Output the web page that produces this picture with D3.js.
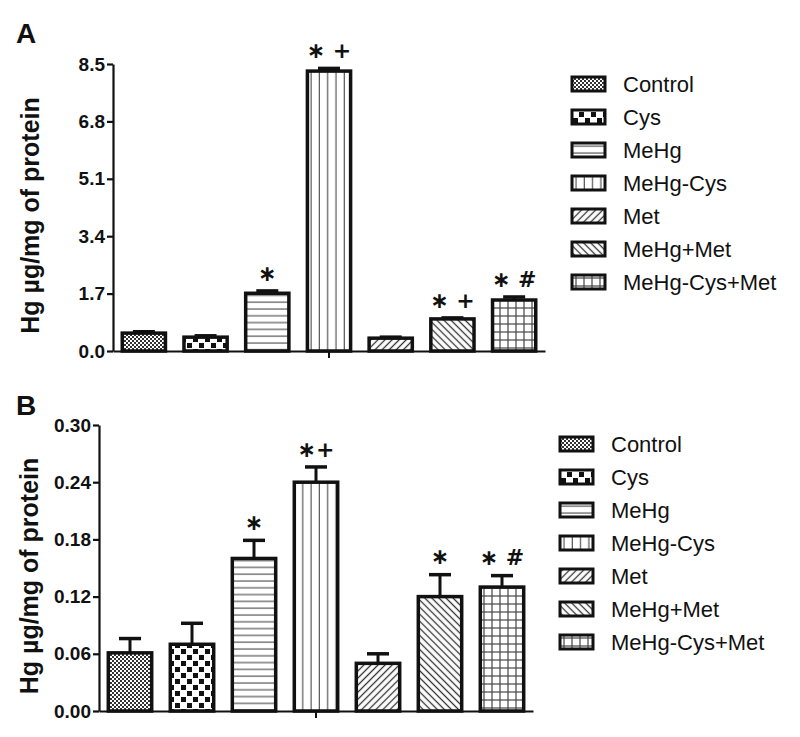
<!DOCTYPE html>
<html>
<head>
<meta charset="utf-8">
<script src="https://cdn.jsdelivr.net/npm/d3@7"></script>
<style>
  body { margin: 0; background: #fff; }
  svg { display: block; }
  text { font-family: "Liberation Sans", Arial, sans-serif; fill: #111; }
</style>
</head>
<body>
<div id="graph"></div>
<script>
// groups and values
const groups = ["Control", "Cys", "MeHg", "MeHg-Cys", "Met", "MeHg+Met", "MeHg-Cys+Met"];

// panel A
const meanA = [0.53, 0.41, 1.71, 8.29, 0.38, 0.95, 1.51];
const errA = [0.04, 0.04, 0.07, 0.08, 0.03, 0.03, 0.09];
const markA = ["", "", "\u2217", "\u2217 +", "", "\u2217 +", "\u2217 #"];
const ticksA = [0, 1.7, 3.4, 5.1, 6.8, 8.5];

// panel B
const meanB = [0.061, 0.070, 0.160, 0.240, 0.050, 0.120, 0.130];
const errB = [0.015, 0.022, 0.019, 0.016, 0.010, 0.023, 0.012];
const markB = ["", "", "\u2217", "\u2217+", "", "\u2217", "\u2217 #"];
const ticksB = [0, 0.06, 0.12, 0.18, 0.24, 0.30];

const patternIds = ["pControl", "pCys", "pMeHg", "pMeHgCys", "pMet", "pMeHgMet", "pMeHgCysMet"];

var svg = d3.select("#graph")
  .append("svg")
  .attr("width", 800)
  .attr("height", 737);

// fill patterns
var defs = svg.append("defs");
function pat(id, w, h) {
  return defs.append("pattern").attr("id", id)
    .attr("patternUnits", "userSpaceOnUse")
    .attr("width", w).attr("height", h);
}
var p = pat("pControl", 4, 4);
p.append("rect").attr("width", 4).attr("height", 4).attr("fill", "#fff");
p.append("rect").attr("width", 2).attr("height", 2).attr("fill", "#333");
p.append("rect").attr("x", 2).attr("y", 2).attr("width", 2).attr("height", 2).attr("fill", "#333");

p = pat("pCys", 12, 12);
p.append("rect").attr("width", 12).attr("height", 12).attr("fill", "#fff");
p.append("rect").attr("x", 1).attr("y", 1).attr("width", 5).attr("height", 5).attr("fill", "#111");
p.append("rect").attr("x", 7).attr("y", 7).attr("width", 5).attr("height", 5).attr("fill", "#111");

p = pat("pMeHg", 8, 6.8);
p.append("rect").attr("width", 8).attr("height", 6.8).attr("fill", "#fff");
p.append("line").attr("x1", 0).attr("x2", 8).attr("y1", 3).attr("y2", 3).attr("stroke", "#555").attr("stroke-width", 1.2);

p = pat("pMeHgCys", 8.3, 8);
p.append("rect").attr("width", 8.3).attr("height", 8).attr("fill", "#fff");
p.append("line").attr("x1", 4).attr("x2", 4).attr("y1", 0).attr("y2", 8).attr("stroke", "#555").attr("stroke-width", 1.2);

p = pat("pMet", 5, 5).attr("patternTransform", "rotate(45)");
p.append("rect").attr("width", 5).attr("height", 5).attr("fill", "#fff");
p.append("line").attr("x1", 2.5).attr("x2", 2.5).attr("y1", 0).attr("y2", 5).attr("stroke", "#333").attr("stroke-width", 1.3);

p = pat("pMeHgMet", 5, 5).attr("patternTransform", "rotate(-45)");
p.append("rect").attr("width", 5).attr("height", 5).attr("fill", "#fff");
p.append("line").attr("x1", 2.5).attr("x2", 2.5).attr("y1", 0).attr("y2", 5).attr("stroke", "#333").attr("stroke-width", 1.3);

p = pat("pMeHgCysMet", 8, 8);
p.append("rect").attr("width", 8).attr("height", 8).attr("fill", "#fff");
p.append("line").attr("x1", 4).attr("x2", 4).attr("y1", 0).attr("y2", 8).attr("stroke", "#444").attr("stroke-width", 1.2);
p.append("line").attr("x1", 0).attr("x2", 8).attr("y1", 4).attr("y2", 4).attr("stroke", "#444").attr("stroke-width", 1.2);

// draws one panel
function panel(cfg) {
  var x = d3.scaleBand()
    .domain(groups)
    .range([cfg.left, cfg.right])
    .paddingInner(0.3)
    .paddingOuter(0.15);

  var y = d3.scaleLinear()
    .domain([0, cfg.ticks[cfg.ticks.length - 1]])
    .range([cfg.bottom, cfg.top]);

  var g = svg.append("g");

  var data = groups.map((k, i) => ({ key: k, mean: cfg.mean[i], err: cfg.err[i], mark: cfg.mark[i], pat: patternIds[i] }));

  // error bars
  var eb = g.selectAll(".eb").data(data).enter().append("g");
  eb.append("line")
    .attr("x1", d => x(d.key) + x.bandwidth() / 2)
    .attr("x2", d => x(d.key) + x.bandwidth() / 2)
    .attr("y1", d => y(d.mean))
    .attr("y2", d => y(d.mean + d.err))
    .attr("stroke", "#111").attr("stroke-width", 3);
  eb.append("line")
    .attr("x1", d => x(d.key) + x.bandwidth() / 2 - 11)
    .attr("x2", d => x(d.key) + x.bandwidth() / 2 + 11)
    .attr("y1", d => y(d.mean + d.err))
    .attr("y2", d => y(d.mean + d.err))
    .attr("stroke", "#111").attr("stroke-width", 3.5);

  // bars
  g.selectAll(".bar").data(data).enter().append("rect")
    .attr("x", d => x(d.key))
    .attr("width", x.bandwidth())
    .attr("y", d => y(d.mean))
    .attr("height", d => y(0) - y(d.mean))
    .attr("fill", d => "url(#" + d.pat + ")")
    .attr("stroke", "#111")
    .attr("stroke-width", 3.5);

  // significance marks
  g.selectAll(".mark").data(data).enter().append("text")
    .attr("x", d => x(d.key) + x.bandwidth() / 2)
    .attr("y", d => y(d.mean + d.err) - 18)
    .attr("dy", "0.35em")
    .attr("text-anchor", "middle")
    .style("font-family", "'DejaVu Sans', sans-serif")
    .style("font-weight", "bold")
    .style("font-size", "22px")
    .text(d => d.mark);

  // y axis
  var leftAxis = d3.axisLeft(y)
    .tickValues(cfg.ticks)
    .tickFormat(d3.format(cfg.fmt))
    .tickSize(6)
    .tickSizeOuter(0);
  var ya = g.append("g")
    .attr("transform", `translate(${cfg.left}, 0)`)
    .call(leftAxis)
    .attr("font-size", cfg.tickFont)
    .attr("font-weight", "bold");
  ya.select(".domain").attr("stroke", "#111").attr("stroke-width", 2.2);
  ya.selectAll(".tick line").attr("stroke", "#111").attr("stroke-width", 2.2);
  ya.selectAll(".tick text")
    .attr("x", -8)
    .attr("fill", "#111")
    .style("font-size", cfg.tickFont + "px");

  // x axis with a single middle tick
  var bottomAxis = d3.axisBottom(x)
    .tickValues([groups[3]])
    .tickFormat("")
    .tickSize(7)
    .tickSizeOuter(0);
  var xa = g.append("g")
    .attr("transform", `translate(0, ${cfg.bottom})`)
    .call(bottomAxis);
  xa.select(".domain").attr("stroke", "#111").attr("stroke-width", 2.2);
  xa.selectAll(".tick line").attr("stroke", "#111").attr("stroke-width", 2);

  // axis title
  g.append("text")
    .attr("transform", `translate(${cfg.titleX}, ${(cfg.top + cfg.bottom) / 2 + 8}) rotate(-90)`)
    .attr("text-anchor", "middle")
    .style("font-weight", "bold")
    .style("font-size", "25px")
    .text("Hg \u00b5g/mg of protein");

  // panel letter
  g.append("text")
    .attr("x", 16)
    .attr("y", cfg.letterY)
    .style("font-weight", "bold")
    .style("font-size", "28px")
    .text(cfg.letter);

  // legend
  var lg = g.selectAll(".lg").data(data).enter().append("g")
    .attr("transform", (d, i) => `translate(${cfg.legX}, ${cfg.legY + i * 33})`);
  lg.append("rect")
    .attr("x", 0).attr("y", -7)
    .attr("width", 33).attr("height", 14)
    .attr("fill", d => "url(#" + d.pat + ")")
    .attr("stroke", "#111")
    .attr("stroke-width", 3);
  lg.append("text")
    .attr("x", cfg.legTextX)
    .attr("dy", "0.36em")
    .style("font-size", "22px")
    .text(d => d.key);
}

panel({
  letter: "A", letterY: 43,
  mean: meanA, err: errA, mark: markA, ticks: ticksA, fmt: ".1f", tickFont: 19,
  left: 113, right: 545, top: 64, bottom: 351,
  titleX: 39, legX: 572, legY: 84, legTextX: 51
});

panel({
  letter: "B", letterY: 415,
  mean: meanB, err: errB, mark: markB, ticks: ticksB, fmt: ".2f", tickFont: 19,
  left: 99, right: 533, top: 425, bottom: 711,
  titleX: 38, legX: 560, legY: 444, legTextX: 51
});
</script>
</body>
</html>
